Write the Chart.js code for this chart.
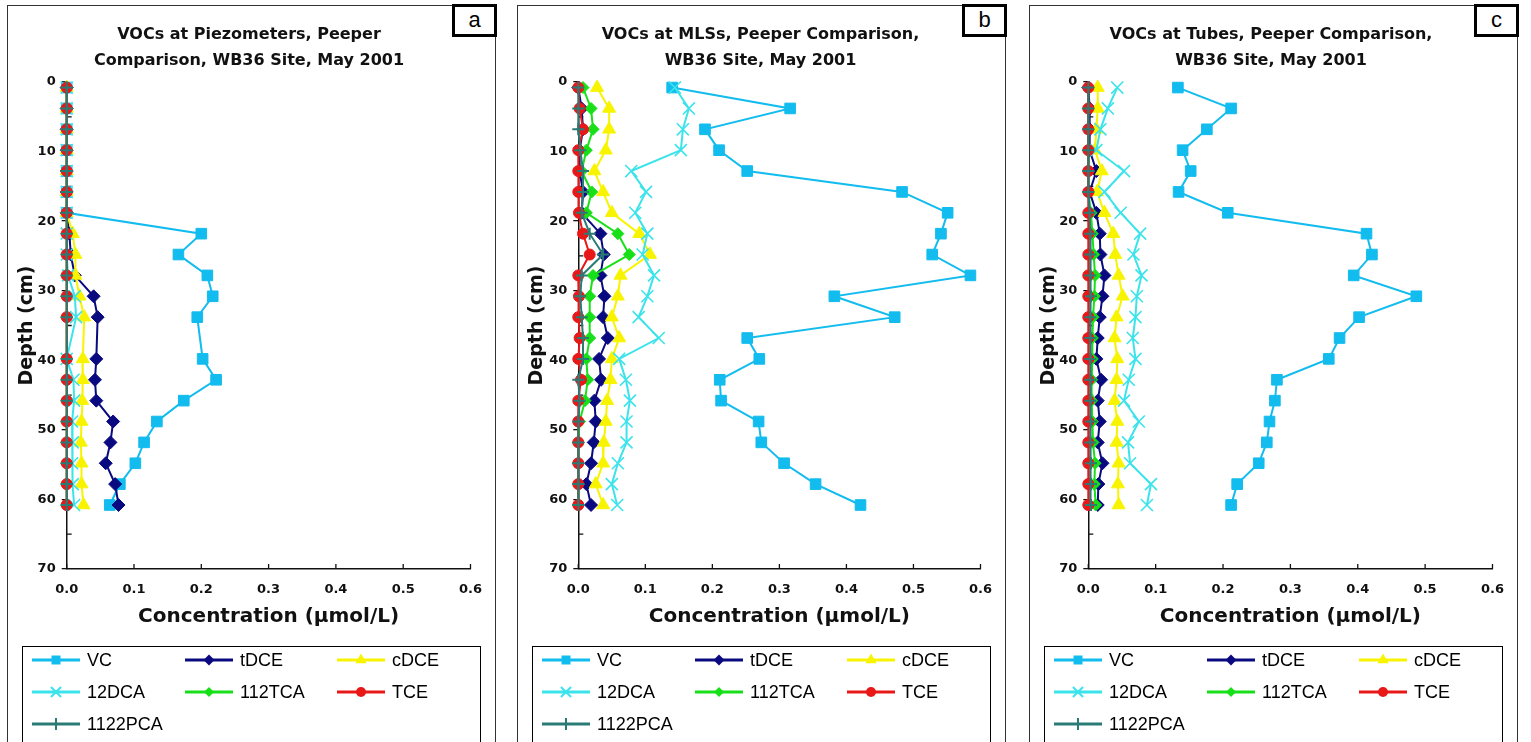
<!DOCTYPE html>
<html><head><meta charset="utf-8">
<script src="https://cdn.jsdelivr.net/npm/chart.js@4.4.1/dist/chart.umd.min.js"></script>
<style>
html,body{margin:0;padding:0;background:#fff;width:1531px;height:742px;overflow:hidden;}
.panel{position:absolute;top:5px;width:489px;height:780px;border:1px solid #333;box-sizing:border-box;background:#fff;}
.panel canvas{position:absolute;left:0;top:0;}
.tag{position:absolute;top:-2px;right:-2px;width:45px;height:33px;box-sizing:border-box;border:3px solid #000;background:#fff;font:22px "Liberation Sans",Arial,sans-serif;text-align:center;line-height:26px;color:#000;}
</style></head><body>
<div class="panel" style="left:7px"><canvas id="ca" width="487" height="736"></canvas><div class="tag">a</div></div>
<div class="panel" style="left:517px"><canvas id="cb" width="487" height="736"></canvas><div class="tag">b</div></div>
<div class="panel" style="left:1029px"><canvas id="cc" width="487" height="736"></canvas><div class="tag">c</div></div>
<script>
// ---------- data ----------
const depths = [0.8, 3.8, 6.8, 9.8, 12.8, 15.8, 18.8, 21.8, 24.8, 27.8, 30.8, 33.8, 36.8, 39.8, 42.8, 45.8, 48.8, 51.8, 54.8, 57.8, 60.8];
const seriesNames = ['VC', 'tDCE', 'cDCE', '12DCA', '112TCA', 'TCE', '1122PCA'];
const xTickValues = [0.0, 0.1, 0.2, 0.3, 0.4, 0.5, 0.6];
const yTickValues = [0, 10, 20, 30, 40, 50, 60, 70];
const yMinorTicks = [5, 15, 25, 35, 45, 55, 65];

const titleA = ['VOCs at Piezometers, Peeper', 'Comparison, WB36 Site, May 2001'];
const titleB = ['VOCs at MLSs, Peeper Comparison,', 'WB36 Site, May 2001'];
const titleC = ['VOCs at Tubes, Peeper Comparison,', 'WB36 Site, May 2001'];
const xTitle = 'Concentration (µmol/L)';
const yTitle = 'Depth (cm)';

// Panel a: Piezometers (no sample at 36.8 cm)
const piezoVC      = [0, 0, 0, 0, 0, 0, 0, 0.200, 0.166, 0.209, 0.217, 0.194, null, 0.202, 0.222, 0.174, 0.134, 0.115, 0.102, 0.079, 0.064];
const piezoTDCE    = [0, 0, 0, 0, 0, 0, 0, 0.004, 0.006, 0.012, 0.040, 0.046, null, 0.044, 0.042, 0.044, 0.069, 0.065, 0.058, 0.072, 0.077];
const piezoCDCE    = [0, 0, 0, 0, 0, 0, 0, 0.009, 0.013, 0.013, 0.019, 0.026, null, 0.024, 0.024, 0.023, 0.022, 0.021, 0.022, 0.022, 0.025];
const piezo12DCA   = [0, 0, 0, 0, 0, 0, 0, 0, 0, 0.002, 0.012, 0.014, null, 0, 0.010, 0.011, 0.008, 0.009, 0.008, 0.009, 0.011];
const piezo112TCA  = [0, 0, 0, 0, 0, 0, 0, 0, 0, 0, 0, 0, null, 0, 0, 0, 0, 0, 0, 0, 0];
const piezoTCE     = [0, 0, 0, 0, 0, 0, 0, 0, 0, 0, 0, 0, null, 0, 0, 0, 0, 0, 0, 0, 0];
const piezo1122PCA = [0, 0, 0, 0, 0, 0, 0, 0, 0, 0, 0, 0, null, 0, 0, 0, 0, 0, 0, 0, 0];

// Panel b: MLSs
const mlsVC      = [0.140, 0.316, 0.189, 0.210, 0.252, 0.483, 0.551, 0.541, 0.528, 0.585, 0.382, 0.472, 0.252, 0.270, 0.211, 0.213, 0.269, 0.273, 0.307, 0.354, 0.421];
const mlsTDCE    = [0.000, 0.005, 0.007, 0.002, 0.002, 0.007, 0.005, 0.033, 0.038, 0.033, 0.039, 0.037, 0.044, 0.031, 0.034, 0.024, 0.026, 0.023, 0.019, 0.012, 0.019];
const mlsCDCE    = [0.028, 0.046, 0.046, 0.041, 0.024, 0.037, 0.050, 0.091, 0.107, 0.063, 0.059, 0.050, 0.061, 0.050, 0.048, 0.043, 0.041, 0.038, 0.037, 0.026, 0.037];
const mls12DCA   = [0.144, 0.165, 0.156, 0.153, 0.079, 0.101, 0.085, 0.103, 0.096, 0.113, 0.103, 0.090, 0.120, 0.061, 0.071, 0.077, 0.072, 0.072, 0.059, 0.050, 0.058];
const mls112TCA  = [0.007, 0.019, 0.022, 0.012, 0.005, 0.020, 0.012, 0.059, 0.076, 0.022, 0.017, 0.017, 0.017, 0.012, 0.014, 0.010, 0.002, 0, 0, 0, 0];
const mlsTCE     = [0, 0.002, 0.007, 0, 0, 0, 0.001, 0.007, 0.017, 0, 0.001, 0, 0.002, 0, 0.004, 0, 0, 0, 0, 0, 0];
const mls1122PCA = [0, 0, 0, 0.003, 0.007, 0.007, 0.005, 0.017, 0.037, 0.005, 0.003, 0.005, 0.007, 0.007, 0, 0.002, 0, 0, 0, 0, 0];

// Panel c: Tubes
const tubeVC      = [0.133, 0.212, 0.176, 0.140, 0.152, 0.134, 0.207, 0.413, 0.421, 0.394, 0.487, 0.402, 0.373, 0.357, 0.280, 0.277, 0.269, 0.265, 0.253, 0.221, 0.212];
const tubeTDCE    = [0, 0.002, 0.002, 0.002, 0.012, 0.002, 0.012, 0.017, 0.018, 0.024, 0.021, 0.017, 0.014, 0.012, 0.019, 0.014, 0.017, 0.014, 0.021, 0.015, 0.014];
const tubeCDCE    = [0.014, 0.014, 0.012, 0.010, 0.020, 0.013, 0.024, 0.037, 0.040, 0.045, 0.051, 0.042, 0.039, 0.043, 0.042, 0.039, 0.043, 0.042, 0.045, 0.044, 0.045];
const tube12DCA   = [0.043, 0.029, 0.018, 0.012, 0.053, 0.024, 0.048, 0.077, 0.067, 0.079, 0.072, 0.070, 0.066, 0.070, 0.060, 0.053, 0.075, 0.059, 0.062, 0.093, 0.087];
const tube112TCA  = [0, 0, 0, 0, 0, 0, 0.004, 0.006, 0.008, 0.010, 0.009, 0.007, 0.006, 0.006, 0.005, 0.005, 0.006, 0.007, 0.010, 0.009, 0.011];
const tubeTCE     = [0, 0, 0, 0, 0, 0, 0, 0, 0, 0, 0, 0, 0, 0, 0, 0, 0, 0, 0, 0, 0];
const tube1122PCA = [0, 0, 0, 0, 0, 0, 0.002, 0.003, 0.003, 0.003, 0.004, 0.003, 0.003, 0.003, 0.003, 0.003, 0.004, 0.003, 0.004, 0.004, 0.004];

// ---------- styles ----------
const styles = [
  {color: '#12BCEE', fill: '#12BCEE', point: 'rect',     radius: 7.5, bw: 1,   lr: 6},
  {color: '#0A0A80', fill: '#0A0A80', point: 'rectRot',  radius: 6.5, bw: 1,   lr: 5.5},
  {color: '#F8F400', fill: '#F8F400', point: 'triangle', radius: 7.5, bw: 1,   lr: 6.5},
  {color: '#3BE3EA', fill: '#3BE3EA', point: 'crossRot', radius: 8.5, bw: 1.6, lr: 7},
  {color: '#18E018', fill: '#18E018', point: 'rectRot',  radius: 6,   bw: 1,   lr: 5},
  {color: '#E81818', fill: '#E81818', point: 'circle',   radius: 5.5, bw: 1,   lr: 5},
  {color: '#2A7A76', fill: '#2A7A76', point: 'cross',    radius: 6,   bw: 2,   lr: 6}
];

function buildDatasets(seriesList) {
  return seriesList.map((vals, i) => {
    const s = styles[i];
    const pts = [];
    vals.forEach((v, k) => { if (v !== null) pts.push({x: v, y: depths[k]}); });
    return {
      label: seriesNames[i], data: pts, showLine: true,
      borderColor: s.color, backgroundColor: s.fill, borderWidth: 2,
      pointStyle: s.point, pointRadius: s.radius, pointBackgroundColor: s.fill,
      pointBorderColor: s.color, pointBorderWidth: s.bw, pointHoverRadius: s.radius,
      clip: false, order: 7 - i, tension: 0
    };
  });
}

function drawMarker(ctx, style, x, y, r, fill, stroke) {
  ctx.save();
  ctx.fillStyle = fill; ctx.strokeStyle = stroke; ctx.lineWidth = 1.5;
  ctx.beginPath();
  if (style === 'rect') { const h = r * 0.75; ctx.rect(x - h, y - h, 2 * h, 2 * h); ctx.fill(); }
  else if (style === 'rectRot') { ctx.moveTo(x, y - r); ctx.lineTo(x + r, y); ctx.lineTo(x, y + r); ctx.lineTo(x - r, y); ctx.closePath(); ctx.fill(); }
  else if (style === 'triangle') { ctx.moveTo(x, y - r); ctx.lineTo(x + r * 0.87, y + r * 0.5); ctx.lineTo(x - r * 0.87, y + r * 0.5); ctx.closePath(); ctx.fill(); }
  else if (style === 'circle') { ctx.arc(x, y, r, 0, Math.PI * 2); ctx.fill(); }
  else if (style === 'crossRot') { const h = r * 0.72; ctx.moveTo(x - h, y - h); ctx.lineTo(x + h, y + h); ctx.moveTo(x + h, y - h); ctx.lineTo(x - h, y + h); ctx.lineWidth = 2; ctx.stroke(); }
  else if (style === 'cross') { ctx.moveTo(x, y - r); ctx.lineTo(x, y + r); ctx.moveTo(x - r, y); ctx.lineTo(x + r, y); ctx.lineWidth = 2; ctx.stroke(); }
  ctx.restore();
}

const insideTicks = {
  id: 'insideTicks',
  beforeDatasetsDraw(chart) {
    const {ctx, chartArea: ca, scales: {x, y}} = chart;
    ctx.save();
    ctx.strokeStyle = '#111'; ctx.lineWidth = 1.3;
    ctx.beginPath();
    xTickValues.forEach(v => { const px = x.getPixelForValue(v); ctx.moveTo(px, ca.bottom); ctx.lineTo(px, ca.bottom - 5); });
    yMinorTicks.forEach(v => { const py = y.getPixelForValue(v); ctx.moveTo(ca.left, py); ctx.lineTo(ca.left + 5, py); });
    ctx.stroke();
    ctx.restore();
  }
};

const boxLegend = {
  id: 'boxLegend',
  afterDraw(chart) {
    const ctx = chart.ctx;
    const cols = [24, 177, 329];
    const rows = [654, 686, 718];
    ctx.save();
    ctx.strokeStyle = '#000'; ctx.lineWidth = 1;
    ctx.strokeRect(14.5, 640.5, 458, 200);
    chart.data.datasets.forEach((ds, i) => {
      const x0 = cols[i % 3], y0 = rows[Math.floor(i / 3)];
      ctx.strokeStyle = ds.borderColor; ctx.lineWidth = 3;
      ctx.beginPath(); ctx.moveTo(x0, y0); ctx.lineTo(x0 + 48, y0); ctx.stroke();
      drawMarker(ctx, ds.pointStyle, x0 + 24, y0, styles[i].lr, ds.pointBackgroundColor, ds.borderColor);
      ctx.fillStyle = '#000';
      ctx.font = '18px "Liberation Sans", Arial, sans-serif';
      ctx.textBaseline = 'middle'; ctx.textAlign = 'left';
      ctx.fillText(ds.label, x0 + 55, y0 + 1);
    });
    ctx.restore();
  }
};

const tickFont = {family: 'DejaVu Sans', size: 13, weight: 'bold'};

function makeChart(id, title, seriesList, plotLeft, plotRight) {
  new Chart(document.getElementById(id), {
    type: 'scatter',
    data: {datasets: buildDatasets(seriesList)},
    plugins: [insideTicks, boxLegend],
    options: {
      responsive: false, animation: false, devicePixelRatio: 1,
      events: [],
      layout: {padding: {left: 8, right: 487 - plotRight, top: 0, bottom: 113}},
      plugins: {
        legend: {display: false}, tooltip: {enabled: false},
        title: {display: true, text: title, color: '#111',
          font: {family: 'DejaVu Sans', size: 16, weight: 'bold', lineHeight: 1.625},
          padding: {top: 16, bottom: 8}}
      },
      scales: {
        x: {
          type: 'linear', position: 'bottom', min: 0, max: 0.6,
          ticks: {stepSize: 0.1, callback: v => Number(v).toFixed(1), font: tickFont, color: '#111', padding: 13, maxRotation: 0, autoSkip: false},
          grid: {display: false, drawTicks: false},
          border: {display: true, color: '#111', width: 1.5},
          title: {display: true, text: xTitle, color: '#111', font: {family: 'DejaVu Sans', size: 20, weight: 'bold'}, padding: {top: 0, bottom: 0}},
          afterFit: s => { s.height = 60; }
        },
        y: {
          type: 'linear', position: 'left', reverse: true, min: 0, max: 70,
          afterBuildTicks: s => { s.ticks = yTickValues.map(v => ({value: v})); },
          ticks: {font: tickFont, color: '#111', padding: 6, autoSkip: false},
          grid: {display: true, drawOnChartArea: false, drawTicks: true, tickLength: 5, color: '#111', lineWidth: 1.3},
          border: {display: true, color: '#111', width: 1.5},
          title: {display: true, text: yTitle, color: '#111', font: {family: 'DejaVu Sans', size: 19, weight: 'bold'}, padding: {top: 0, bottom: 0}},
          afterFit: s => { s.width = plotLeft - 8; }
        }
      }
    }
  });
}

makeChart('ca', titleA, [piezoVC, piezoTDCE, piezoCDCE, piezo12DCA, piezo112TCA, piezoTCE, piezo1122PCA], 58.7, 474);
makeChart('cb', titleB, [mlsVC, mlsTDCE, mlsCDCE, mls12DCA, mls112TCA, mlsTCE, mls1122PCA], 60.3, 477);
makeChart('cc', titleC, [tubeVC, tubeTDCE, tubeCDCE, tube12DCA, tube112TCA, tubeTCE, tube1122PCA], 58.3, 474);
</script>
</body></html>
